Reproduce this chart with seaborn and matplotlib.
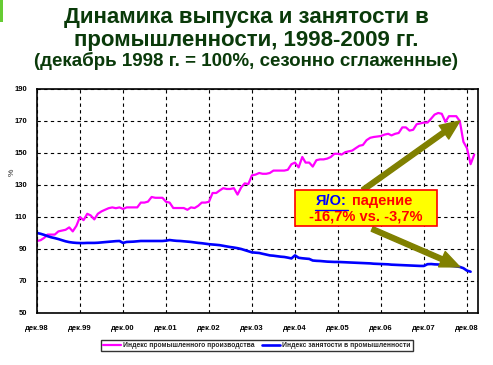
import numpy as np
import pandas as pd
import matplotlib
matplotlib.use("Agg")
import matplotlib.pyplot as plt
from matplotlib.patches import Rectangle
import seaborn as sns

# Monthly index values, Dec 1998 .. Feb 2009
industry = [
    95, 95.5, 97, 99, 99, 99, 101, 101.5, 102, 103.5, 101, 104.5,
    110, 108, 112, 111, 108.5, 112, 113.5, 114.5, 115.5, 116, 115.5, 116,
    115, 116, 116, 116, 116, 119, 119, 119.6, 122.5, 122, 122, 122,
    119.5, 119, 115.6, 115.6, 115.6, 115.6, 114.5, 116, 115.6, 117, 119, 119,
    119.5, 125, 125, 126.5, 128, 127.5, 127.5, 128, 124, 128.5, 131, 130.6,
    136, 136.5, 137.5, 137, 137, 137.5, 139, 139, 139, 139, 139.5, 143,
    144, 141, 147.5, 144, 144, 141.5, 145.5, 146, 146, 146.5, 147.5, 149.5,
    149.5, 149, 150.5, 151, 151.5, 153, 154.5, 155, 158, 159.5, 160, 160.3,
    160.6, 161.5, 162, 161, 162, 162.5, 166, 166, 164, 164.5, 168, 168.5,
    169, 169, 171.5, 174, 175, 174.5, 169.5, 173, 173, 173, 170, 157,
    153, 143, 149,
]
employment = [
    100, 99.5, 98.8, 98, 97.3, 96.8, 96.2, 95.5, 94.8, 94.3, 94, 93.8,
    93.7, 93.7, 93.8, 93.8, 93.8, 93.9, 94.1, 94.3, 94.5, 94.7, 94.9, 95,
    93.8, 94.4, 94.5, 94.6, 94.8, 95, 95, 95, 95, 95, 95, 95,
    95.2, 95.6, 95.3, 95.1, 95, 94.8, 94.6, 94.4, 94.1, 93.8, 93.6, 93.3,
    93, 92.8, 92.6, 92.4, 92, 91.6, 91.2, 90.9, 90.5, 90, 89.3, 88.6,
    87.9, 87.7, 87.5, 87, 86.5, 86, 85.8, 85.5, 85.2, 85, 84.6, 84.1,
    86, 84.5, 84.2, 84, 83.8, 82.8, 82.6, 82.5, 82.3, 82.1, 82, 81.9,
    81.9, 81.8, 81.7, 81.6, 81.5, 81.4, 81.3, 81.2, 81.1, 81, 80.8, 80.7,
    80.6, 80.5, 80.4, 80.2, 80.1, 80, 79.9, 79.8, 79.7, 79.6, 79.5, 79.4,
    79.4, 80.5, 80.6, 80.4, 80.3, 80.1, 80, 79.6, 79.4, 79.1, 78.8, 78,
    76.5, 75.8, np.nan,
]
months = pd.date_range("1998-12-01", periods=len(industry), freq="MS")
year_ticks = pd.date_range("1998-12-01", "2008-12-01", freq="12MS")
tick_labels = ["дек.98", "дек.99", "дек.00", "дек.01", "дек.02", "дек.03",
               "дек.04", "дек.05", "дек.06", "дек.07", "дек.08"]
y_ticks = [50, 70, 90, 110, 130, 150, 170, 190]

label_ind = "Индекс промышленного производства"
label_emp = "Индекс занятости в промышленности"

df = pd.DataFrame({"month": months, "ind": industry, "emp": employment})

sns.set_style("white")
plt.rcParams["font.family"] = ["Liberation Sans", "DejaVu Sans"]

fig = plt.figure(figsize=(4.93, 3.65), dpi=100)
ax = fig.add_axes([0.075, 0.1425, 0.8946, 0.6137])

sns.lineplot(data=df, x="month", y="ind", ax=ax, color="#ff00ff",
             linewidth=1.6, label=label_ind)
sns.lineplot(data=df, x="month", y="emp", ax=ax, color="#0000ff",
             linewidth=1.9, label=label_emp)

ax.set_xlim(pd.Timestamp("1998-12-01"), pd.Timestamp("2009-03-05"))
ax.set_ylim(50, 190)
ax.set_yticks(y_ticks)
ax.set_xticks(year_ticks)
ax.set_xticklabels(tick_labels)
ax.tick_params(axis="both", labelsize=5.5, length=3, width=0.8,
               direction="out", colors="black", pad=4)
for lab in ax.get_xticklabels() + ax.get_yticklabels():
    lab.set_fontweight("bold")
ax.tick_params(axis="x", pad=6)

ax.grid(True, color="black", linestyle=(0, (3, 3)), linewidth=0.8)
for s in ax.spines.values():
    s.set_color("black")
    s.set_linewidth(1.2)
ax.set_xlabel("")
ax.set_ylabel("")
fig.text(12 / 493, 1 - 172 / 365, "%", rotation=90, ha="center",
         va="center", fontsize=6)

# legend
leg = ax.legend(loc="center", bbox_to_anchor=(0.521, 0.0534),
                bbox_transform=fig.transFigure, ncol=2, fontsize=4.9,
                frameon=True, fancybox=False, edgecolor="black",
                handlelength=2.6, handletextpad=0.4, columnspacing=1.0,
                borderpad=0.3, borderaxespad=0)
leg.get_frame().set_linewidth(1.0)
for t in leg.get_texts():
    t.set_fontweight("bold")

# arrows
olive = "#808000"
arrow_kw = dict(facecolor=olive, edgecolor=olive, width=3.5, headwidth=12,
                headlength=14, shrink=0)
ax.annotate("", xy=(months[118], industry[118]), xycoords="data",
            xytext=(0.739, 0.549), textcoords="axes fraction",
            arrowprops=arrow_kw, zorder=5)
ax.annotate("", xy=(months[118], employment[118]), xycoords="data",
            xytext=(0.760, 0.375), textcoords="axes fraction",
            arrowprops=arrow_kw, zorder=5)

# annotation box
ax.add_patch(Rectangle((0.585, 0.388), 0.322, 0.161, transform=ax.transAxes,
                       facecolor="#ffff00", edgecolor="#ff0000",
                       linewidth=1.2, zorder=6))
ax.text(0.667, 0.5, "Я/О:", transform=ax.transAxes, ha="center",
        va="center", color="#0000ff", fontsize=10.5, fontweight="bold",
        zorder=7)
ax.plot([0.630, 0.705], [0.458, 0.458], transform=ax.transAxes,
        color="#0000ff", linewidth=1.0, zorder=7)
ax.text(0.714, 0.5, "падение", transform=ax.transAxes, ha="left",
        va="center", color="#ff0000", fontsize=10.5, fontweight="bold",
        zorder=7)
ax.text(0.746, 0.430, "-16,7% vs. -3,7%", transform=ax.transAxes,
        ha="center", va="center", color="#ff0000", fontsize=10.5,
        fontweight="bold", zorder=7)

# title
green = "#0a3a0a"
fig.text(0.5, 0.953, "Динамика выпуска и занятости в", ha="center",
         va="center", fontsize=16, fontweight="bold", color=green)
fig.text(0.5, 0.890, "промышленности, 1998-2009 гг.", ha="center",
         va="center", fontsize=16, fontweight="bold", color=green)
fig.text(0.5, 0.833, "(декабрь 1998 г. = 100%, сезонно сглаженные)",
         ha="center", va="center", fontsize=13.5, fontweight="bold",
         color=green)
fig.patches.append(Rectangle((0, 0.94), 0.006, 0.06, transform=fig.transFigure,
                             facecolor="#66cc33", edgecolor="none"))

fig.savefig("out.png", dpi=100)
